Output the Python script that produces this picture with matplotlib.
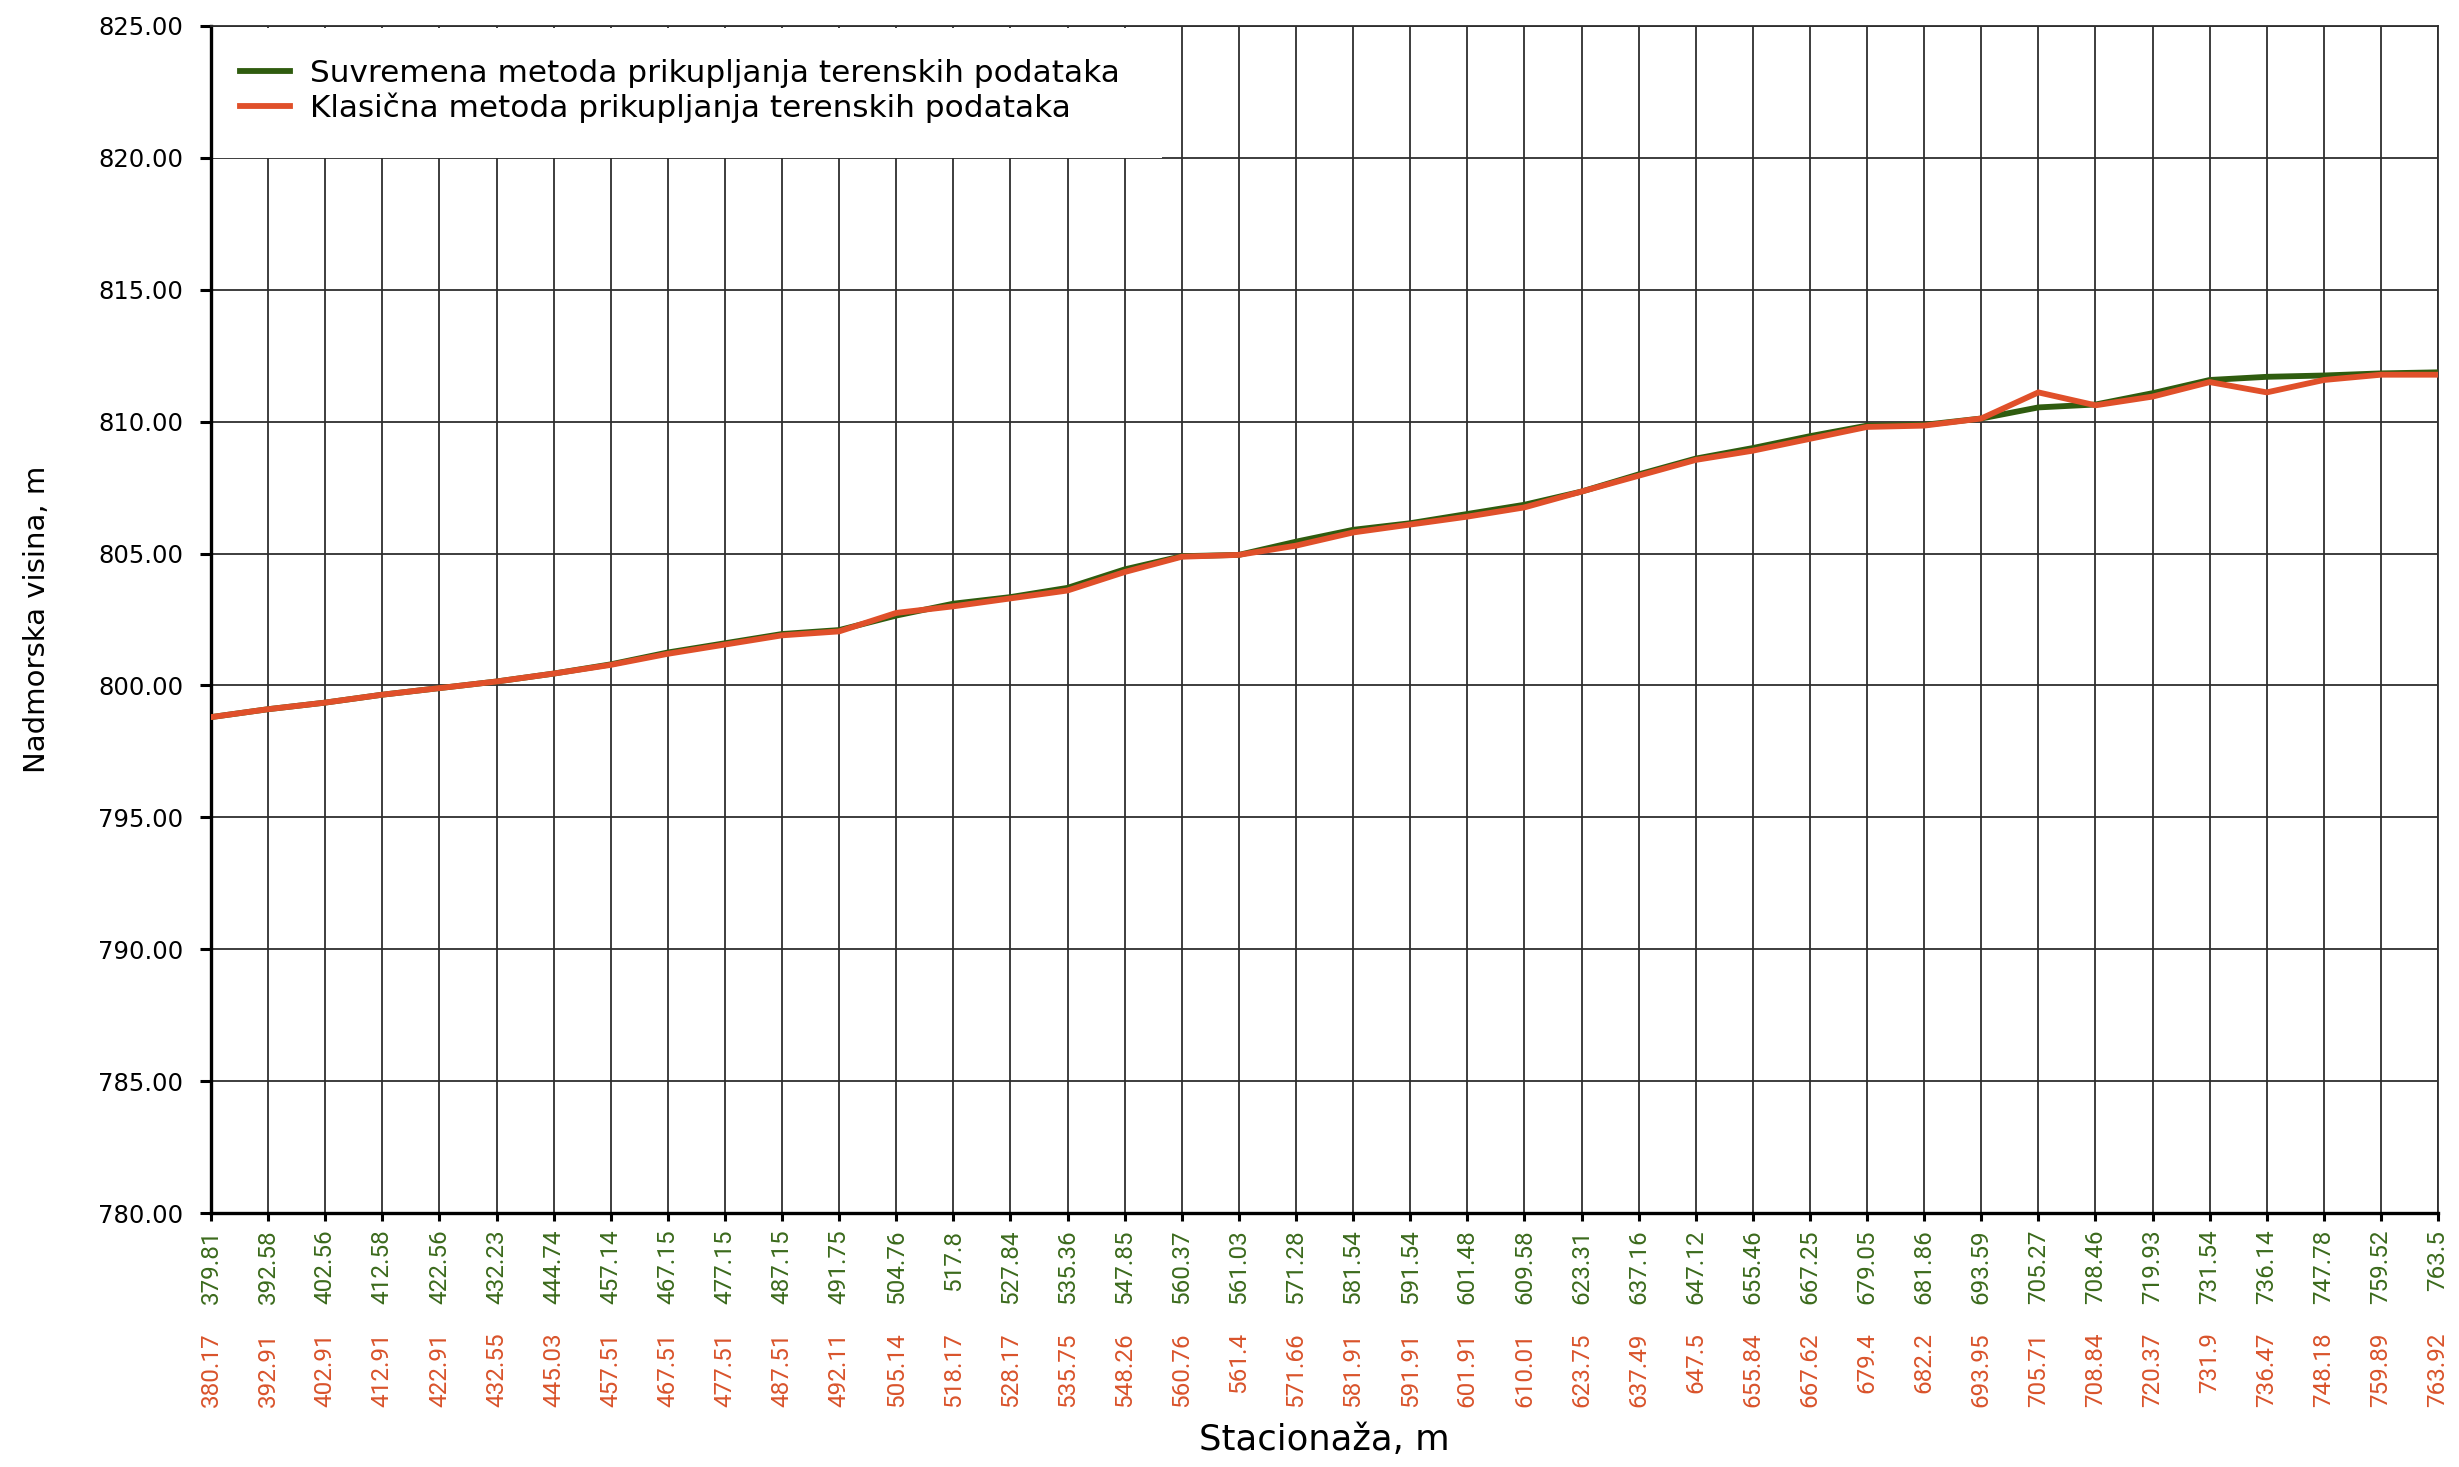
import numpy as np
import matplotlib.pyplot as plt
from matplotlib.patches import Rectangle
from matplotlib.ticker import FormatStrFormatter

# stacionaze (m) for both methods
stac_suvremena = ["379.81", "392.58", "402.56", "412.58", "422.56", "432.23", "444.74", "457.14",
                  "467.15", "477.15", "487.15", "491.75", "504.76", "517.8", "527.84", "535.36",
                  "547.85", "560.37", "561.03", "571.28", "581.54", "591.54", "601.48", "609.58",
                  "623.31", "637.16", "647.12", "655.46", "667.25", "679.05", "681.86", "693.59",
                  "705.27", "708.46", "719.93", "731.54", "736.14", "747.78", "759.52", "763.5"]
stac_klasicna = ["380.17", "392.91", "402.91", "412.91", "422.91", "432.55", "445.03", "457.51",
                 "467.51", "477.51", "487.51", "492.11", "505.14", "518.17", "528.17", "535.75",
                 "548.26", "560.76", "561.4", "571.66", "581.91", "591.91", "601.91", "610.01",
                 "623.75", "637.49", "647.5", "655.84", "667.62", "679.4", "682.2", "693.95",
                 "705.71", "708.84", "720.37", "731.9", "736.47", "748.18", "759.89", "763.92"]

# nadmorska visina (m)
visina_suvremena = [798.8, 799.1, 799.35, 799.65, 799.9, 800.15, 800.45, 800.8,
                    801.25, 801.6, 801.95, 802.1, 802.65, 803.1, 803.35, 803.7,
                    804.4, 804.9, 804.95, 805.45, 805.9, 806.15, 806.5, 806.85,
                    807.35, 808.0, 808.6, 809.0, 809.45, 809.85, 809.88, 810.12,
                    810.54, 810.65, 811.08, 811.58, 811.7, 811.75, 811.83, 811.87]
visina_klasicna = [798.8, 799.1, 799.35, 799.65, 799.9, 800.15, 800.45, 800.78,
                   801.2, 801.55, 801.9, 802.05, 802.75, 803.0, 803.3, 803.6,
                   804.3, 804.88, 804.95, 805.3, 805.8, 806.1, 806.4, 806.75,
                   807.35, 807.95, 808.55, 808.9, 809.35, 809.8, 809.85, 810.12,
                   811.11, 810.62, 810.95, 811.5, 811.11, 811.58, 811.78, 811.78]

green = "#2f5c0f"
red = "#e0502a"
green_txt = "#3b6a1c"
red_txt = "#d9532b"
tick_font = ['Roboto', 'DejaVu Sans']

plt.rcParams['font.family'] = ['DejaVu Sans']

fig = plt.figure(figsize=(24.59, 14.67), dpi=100)
ax = fig.add_axes([0.0858, 0.1731, 0.9057, 0.8092])

x = np.arange(len(stac_suvremena))
ax.plot(x, visina_suvremena, color=green, lw=4.2, label="Suvremena metoda prikupljanja terenskih podataka", zorder=3)
ax.plot(x, visina_klasicna, color=red, lw=4.2, label="Klasična metoda prikupljanja terenskih podataka", zorder=4)

ax.set_xlim(0, len(x) - 1)
ax.set_ylim(780, 825)
ax.set_yticks(np.arange(780, 826, 5))
ax.yaxis.set_major_formatter(FormatStrFormatter('%.2f'))
ax.tick_params(axis='y', labelsize=17.5, length=8, width=2.2, direction='out', pad=12)

ax.set_xticks(x)
ax.set_xticklabels(stac_suvremena, rotation=90, color=green_txt, family=tick_font, fontsize=17.5)
ax.tick_params(axis='x', length=6, width=2.2, direction='out', pad=6)

# second row of station labels (classical method)
sec = ax.secondary_xaxis(-0.1005)
sec.set_xticks(x)
sec.set_xticklabels(stac_klasicna, rotation=90, color=red_txt, family=tick_font, fontsize=17.5)
sec.tick_params(axis='x', length=0, pad=0)
sec.spines['bottom'].set_visible(False)

ax.grid(True, color="#2e2e2e", lw=1.3)
for s in ['left', 'bottom']:
    ax.spines[s].set_linewidth(2.4)
for s in ['top', 'right']:
    ax.spines[s].set_linewidth(1.3)
    ax.spines[s].set_color("#2e2e2e")

# white area behind the legend hides the grid there
ax.add_patch(Rectangle((0, 0.889), 0.427, 0.109, transform=ax.transAxes,
                       facecolor='white', edgecolor='none', zorder=2))

ax.legend(loc='upper left', bbox_to_anchor=(0.0076, 0.983), frameon=False, fontsize=22.4,
          handlelength=1.6, handletextpad=0.65, labelspacing=0.17, borderaxespad=0.0)

ax.set_xlabel("Stacionaža, m", fontsize=25.5)
ax.xaxis.set_label_coords(0.5, -0.177)
ax.set_ylabel("Nadmorska visina, m", fontsize=21)
ax.yaxis.set_label_coords(-0.072, 0.5)

fig.savefig("out.png", dpi=100)
